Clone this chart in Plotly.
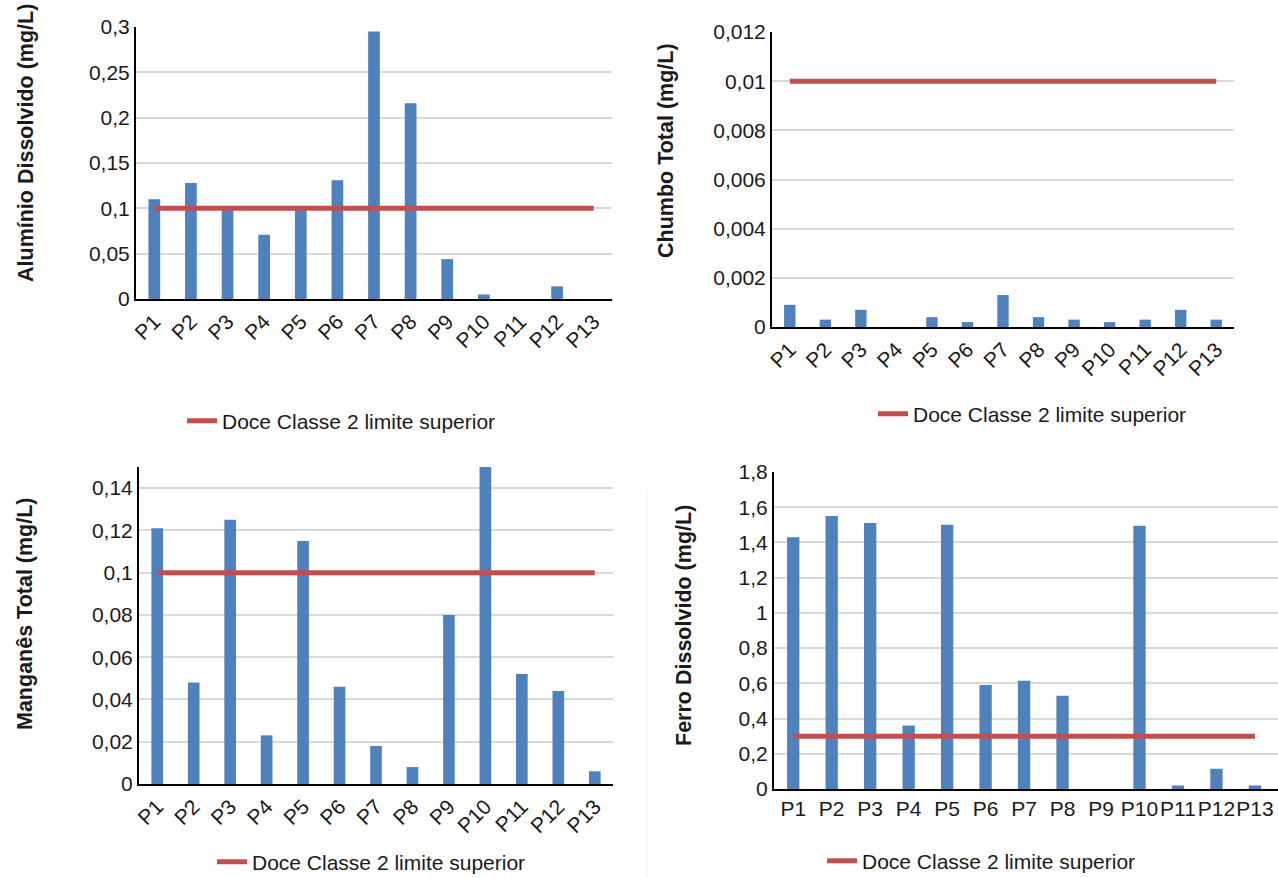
import plotly.graph_objects as go

categories = ["P1", "P2", "P3", "P4", "P5", "P6", "P7", "P8", "P9", "P10", "P11", "P12", "P13"]

aluminio = [0.110, 0.128, 0.100, 0.071, 0.099, 0.131, 0.295, 0.216, 0.044, 0.005, 0.0, 0.014, 0.0]
chumbo = [0.0009, 0.0003, 0.0007, 0.0, 0.0004, 0.0002, 0.0013, 0.0004, 0.0003, 0.0002, 0.0003, 0.0007, 0.0003]
manganes = [0.121, 0.048, 0.125, 0.023, 0.115, 0.046, 0.018, 0.008, 0.080, 0.160, 0.052, 0.044, 0.006]
ferro = [1.43, 1.55, 1.51, 0.36, 1.50, 0.59, 0.615, 0.53, 0.0, 1.495, 0.02, 0.115, 0.02]

limite_aluminio = [0.1] * 13
limite_chumbo = [0.01] * 13
limite_manganes = [0.1] * 13
limite_ferro = [0.3] * 13

legend_label = "Doce Classe 2 limite superior"
titles = ["Alumínio Dissolvido (mg/L)", "Chumbo Total (mg/L)", "Manganês Total (mg/L)", "Ferro Dissolvido (mg/L)"]

W, H = 1278, 878
BAR = "#4F81BD"
RED = "#C0504D"
FONT = "Liberation Sans, Arial, sans-serif"
TXT = "#1a1a1a"

def px(x):
    return x / W

def py(y):
    return 1 - y / H

panels = [
    dict(vals=aluminio, lim=limite_aluminio, xd=[px(136), px(612)], yd=[py(299), py(27)],
         yr=[0, 0.3], dt=0.05, xr=[-0.5, 12.5], angle=-45, leg=(px(182), py(421)),
         title=(px(26), py(143))),
    dict(vals=chumbo, lim=limite_chumbo, xd=[px(772), px(1234)], yd=[py(327), py(32)],
         yr=[0, 0.012], dt=0.002, xr=[-0.5, 12.5], angle=-45, leg=(px(873), py(414)),
         title=(px(666), py(151))),
    dict(vals=manganes, lim=limite_manganes, xd=[px(139), px(613)], yd=[py(784), py(467)],
         yr=[0, 0.15], dt=0.02, xr=[-0.5, 12.5], angle=-45, leg=(px(212), py(862)),
         title=(px(25), py(614))),
    dict(vals=ferro, lim=limite_ferro, xd=[px(774), 1.0], yd=[py(789), py(472)],
         yr=[0, 1.8], dt=0.2, xr=[-0.5, 12.6], angle=0, leg=(px(822), py(861)),
         title=(px(684), py(625))),
]

fig = go.Figure()
layout = dict(
    width=W, height=H, margin=dict(l=0, r=0, t=0, b=0, autoexpand=False),
    paper_bgcolor="white", plot_bgcolor="white",
    separators=",.",
    font=dict(family=FONT, size=21, color=TXT),
    barmode="group", bargap=0.68,
    annotations=[], shapes=[],
)

for i, p in enumerate(panels):
    n = "" if i == 0 else str(i + 1)
    xa, ya = "x" + n, "y" + n
    lg = "legend" + n
    fig.add_trace(go.Bar(x=categories, y=p["vals"], marker=dict(color=BAR, line=dict(width=0)),
                         xaxis=xa, yaxis=ya, showlegend=False))
    fig.add_trace(go.Scatter(x=categories, y=p["lim"], mode="lines", name=legend_label,
                             line=dict(color=RED, width=5), xaxis=xa, yaxis=ya,
                             legend=lg, showlegend=True))
    layout["xaxis" + n] = dict(domain=p["xd"], anchor=ya, type="category", range=p["xr"],
                               showline=True, linecolor="black", linewidth=2,
                               showgrid=False, ticks="", tickangle=p["angle"], automargin=False,
                               tickfont=dict(size=21, color=TXT), fixedrange=True)
    layout["yaxis" + n] = dict(domain=p["yd"], anchor=xa, range=p["yr"], dtick=p["dt"],
                               tick0=0, showline=True, linecolor="black", linewidth=2,
                               showgrid=True, gridcolor="#D9D9D9", gridwidth=2, automargin=False,
                               zeroline=False, ticks="", tickfont=dict(size=21, color=TXT),
                               fixedrange=True)
    layout[lg] = dict(x=p["leg"][0], y=p["leg"][1], xanchor="left", yanchor="middle",
                      bgcolor="rgba(0,0,0,0)", font=dict(size=21, color=TXT, family=FONT),
                      orientation="h")
    layout["annotations"].append(dict(text="<b>" + titles[i] + "</b>", xref="paper", yref="paper",
                                      x=p["title"][0], y=p["title"][1], textangle=-90,
                                      showarrow=False, font=dict(size=21.5, color=TXT, family=FONT),
                                      xanchor="center", yanchor="middle"))

layout["shapes"].append(dict(type="line", xref="paper", yref="paper", x0=px(647), x1=px(647),
                             y0=py(490), y1=0, line=dict(color="#EDEDED", width=1)))

fig.update_layout(**layout)
fig.write_html("out.html")
